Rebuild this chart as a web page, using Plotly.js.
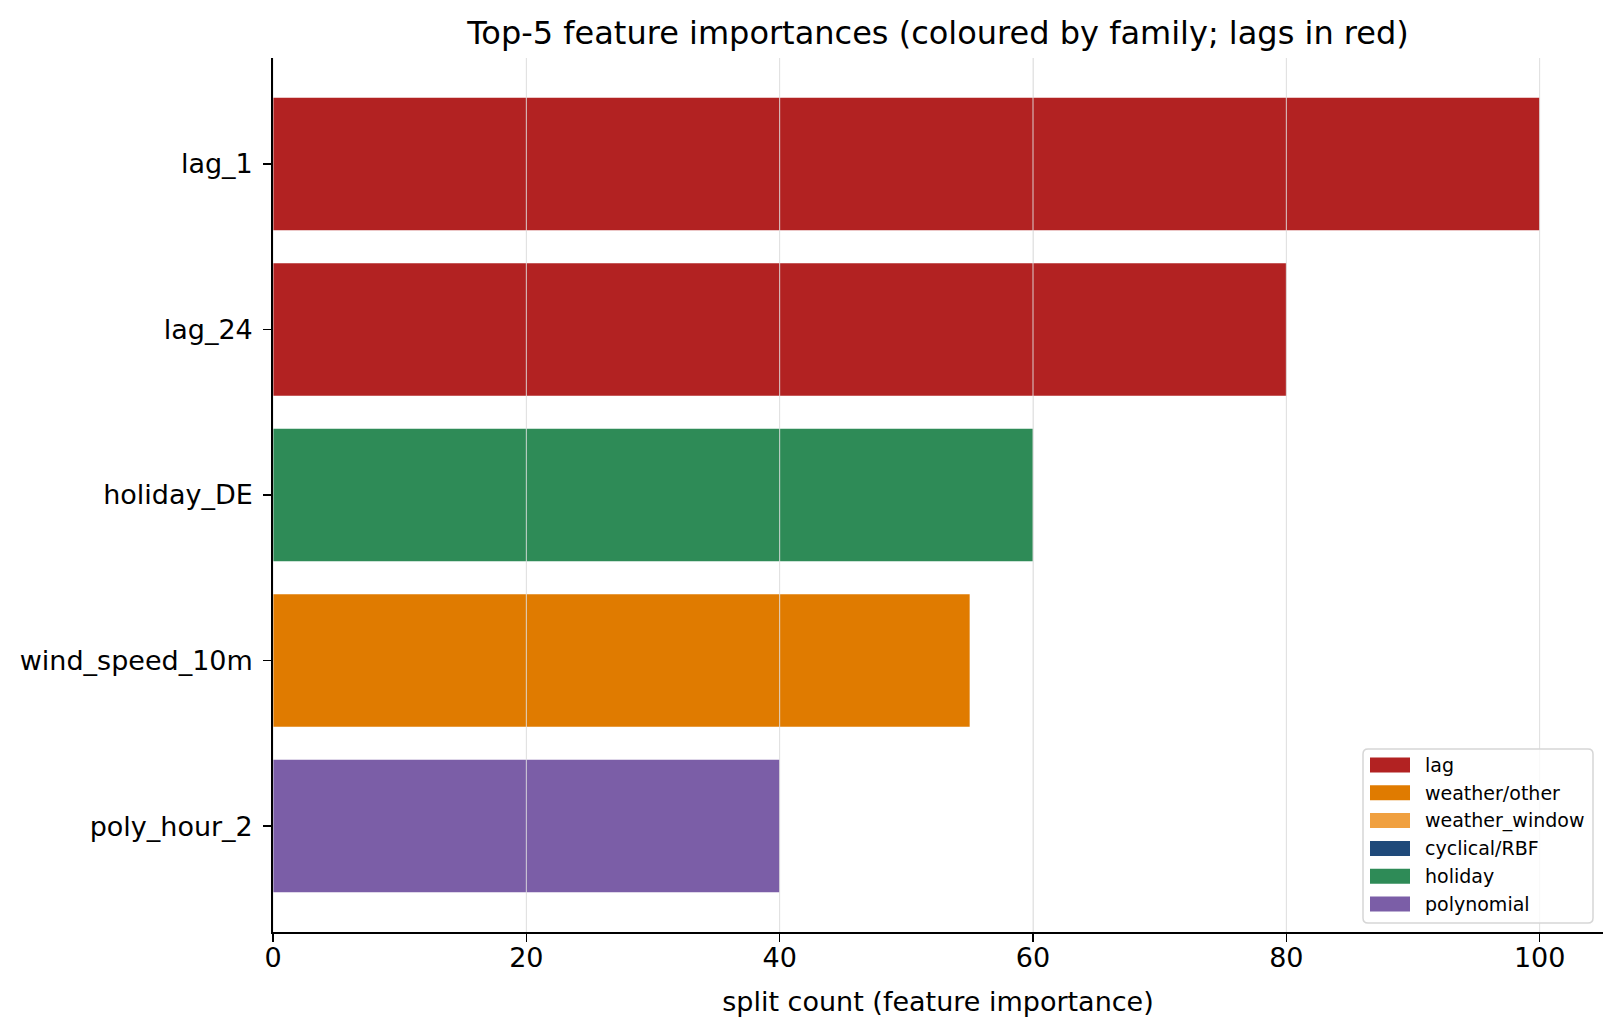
<!DOCTYPE html>
<html>
<head>
<meta charset="utf-8">
<script src="https://cdn.plot.ly/plotly-3.0.1.min.js"></script>
<style>
  html, body { margin: 0; padding: 0; background: #fff; }
  #chart { width: 1620px; height: 1035px; }
</style>
</head>
<body>
<div id="chart"></div>
<script>
// top-5 features, ordered from most to least important
var features = ['lag_1', 'lag_24', 'holiday_DE', 'wind_speed_10m', 'poly_hour_2'];
var importances = [100, 80, 60, 55, 40];
var featureFamily = ['lag', 'lag', 'holiday', 'weather/other', 'polynomial'];

// legend order and colours of the families
var families = ['lag', 'weather/other', 'weather_window', 'cyclical/RBF', 'holiday', 'polynomial'];
var familyColors = ['#b22222', '#e07b00', '#f0a040', '#1f4a7a', '#2e8b57', '#7b5ea7'];

var xTicks = [0, 20, 40, 60, 80, 100];

// plot area in pixels (matches margins below)
var W = 1620, H = 1035;
var M = { l: 273, r: 17, t: 58, b: 103 };
var plotW = W - M.l - M.r, plotH = H - M.t - M.b;
function px(x) { return (x - M.l) / plotW; }
function py(y) { return (H - M.b - y) / plotH; }

var traces = [];
families.forEach(function (fam, i) {
  var xs = [], ys = [];
  features.forEach(function (f, j) {
    if (featureFamily[j] == fam) {
      xs.push(importances[j]);
      ys.push(f);
    }
  });
  if (xs.length > 0) {
    traces.push({
      type: 'bar',
      orientation: 'h',
      name: fam,
      x: xs,
      y: ys,
      width: 0.8,
      marker: { color: familyColors[i], line: { width: 0 } }
    });
  }
});

// grid drawn on top of the bars, as in the original
var shapes = xTicks.map(function (t) {
  return {
    type: 'line', layer: 'above',
    xref: 'x', yref: 'paper',
    x0: t, x1: t, y0: 0, y1: 1,
    line: { color: 'rgba(225,225,225,0.9)', width: 1 }
  };
});

// hand-made legend (matplotlib style: rounded frame, wide patches)
var box = { x0: 1363, x1: 1593, y0: 749, y1: 923, r: 5 };
function roundedBox(b) {
  var x0 = px(b.x0), x1 = px(b.x1), y0 = py(b.y1), y1 = py(b.y0);
  var rx = b.r / plotW, ry = b.r / plotH;
  return 'M' + (x0 + rx) + ',' + y0 +
    ' L' + (x1 - rx) + ',' + y0 + ' Q' + x1 + ',' + y0 + ' ' + x1 + ',' + (y0 + ry) +
    ' L' + x1 + ',' + (y1 - ry) + ' Q' + x1 + ',' + y1 + ' ' + (x1 - rx) + ',' + y1 +
    ' L' + (x0 + rx) + ',' + y1 + ' Q' + x0 + ',' + y1 + ' ' + x0 + ',' + (y1 - ry) +
    ' L' + x0 + ',' + (y0 + ry) + ' Q' + x0 + ',' + y0 + ' ' + (x0 + rx) + ',' + y0 + ' Z';
}
shapes.push({
  type: 'path', layer: 'above', xref: 'paper', yref: 'paper',
  path: roundedBox(box),
  fillcolor: 'rgba(255,255,255,0.8)',
  line: { color: '#d6d6d6', width: 1.5 }
});

var annotations = [];
var rowY0 = 765, rowStep = 27.8;
families.forEach(function (fam, i) {
  var cy = rowY0 + i * rowStep;
  shapes.push({
    type: 'rect', layer: 'above', xref: 'paper', yref: 'paper',
    x0: px(1370), x1: px(1410), y0: py(cy + 7.5), y1: py(cy - 7.5),
    fillcolor: familyColors[i],
    line: { width: 0 }
  });
  annotations.push({
    xref: 'paper', yref: 'paper',
    x: px(1423), y: py(cy),
    xanchor: 'left', yanchor: 'middle',
    text: fam, showarrow: false,
    font: { size: 19, color: '#000' }
  });
});

var layout = {
  width: W,
  height: H,
  paper_bgcolor: '#fff',
  plot_bgcolor: '#fff',
  font: { family: 'DejaVu Sans, sans-serif', size: 27, color: '#000' },
  title: {
    text: 'Top-5 feature importances (coloured by family; lags in red)',
    font: { size: 32, color: '#000' },
    x: 0.5, xref: 'paper', xanchor: 'center',
    y: 1 - 33 / H, yref: 'container', yanchor: 'middle'
  },
  barmode: 'overlay',
  showlegend: false,
  margin: { l: M.l, r: M.r, t: M.t, b: M.b, pad: 0 },
  shapes: shapes,
  annotations: annotations,
  xaxis: {
    range: [0, 105],
    tickmode: 'array',
    tickvals: xTicks,
    showgrid: true,
    gridcolor: '#e6e6e6',
    gridwidth: 1,
    zeroline: false,
    showline: true,
    linecolor: '#000',
    linewidth: 1.8,
    ticks: 'outside',
    ticklen: 8,
    tickwidth: 1.6,
    tickcolor: '#000',
    ticklabelstandoff: -7,
    tickfont: { size: 27 },
    title: { text: 'split count (feature importance)', font: { size: 27 }, standoff: 20 }
  },
  yaxis: {
    type: 'category',
    categoryorder: 'array',
    categoryarray: features,
    range: [4.64, -0.64],
    showgrid: false,
    zeroline: false,
    showline: true,
    linecolor: '#000',
    linewidth: 1.8,
    ticks: 'outside',
    ticklen: 8,
    tickwidth: 1.6,
    tickcolor: '#000',
    ticklabelstandoff: 5,
    tickfont: { size: 27 }
  }
};

Plotly.newPlot('chart', traces, layout, { displayModeBar: false, staticPlot: true });
</script>
</body>
</html>
